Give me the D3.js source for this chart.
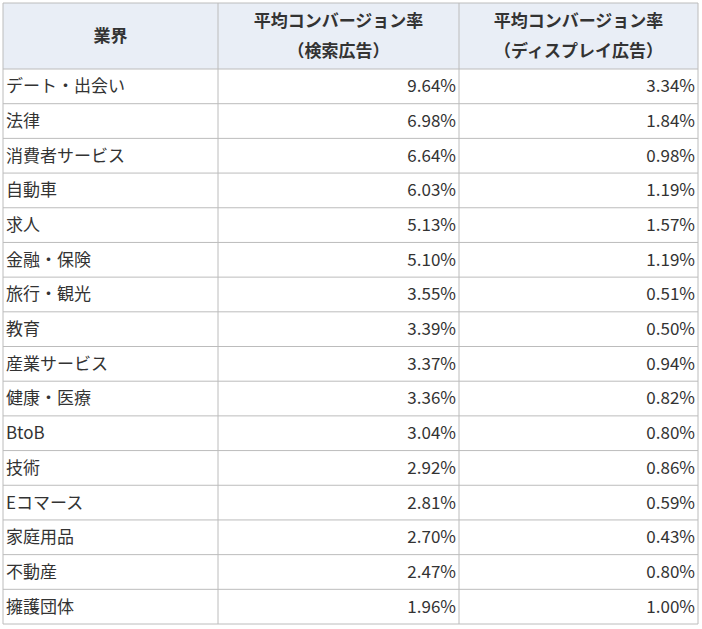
<!DOCTYPE html>
<html><head><meta charset="utf-8">
<script src="https://cdn.jsdelivr.net/npm/d3@7"></script>
<style>body{margin:0;background:#fff}</style></head>
<body><svg id="c" width="702" height="629"></svg>
<script>
const industries=["デート・出会い","法律","消費者サービス","自動車","求人","金融・保険","旅行・観光","教育","産業サービス","健康・医療","BtoB","技術","Eコマース","家庭用品","不動産","擁護団体"];
const searchRates=["9.64%","6.98%","6.64%","6.03%","5.13%","5.10%","3.55%","3.39%","3.37%","3.36%","3.04%","2.92%","2.81%","2.70%","2.47%","1.96%"];
const displayRates=["3.34%","1.84%","0.98%","1.19%","1.57%","1.19%","0.51%","0.50%","0.94%","0.82%","0.80%","0.86%","0.59%","0.43%","0.80%","1.00%"];
const headers=[["業界"],["平均コンバージョン率","（検索広告）"],["平均コンバージョン率","（ディスプレイ広告）"]];
const svg=d3.select("#c");
const font="'Noto Sans CJK JP','Noto Sans',sans-serif";
const colX=[3,218,459,698];
const headTop=3,headBot=69;
const y=d3.scaleBand().domain(d3.range(industries.length)).range([headBot,624]);
svg.append("rect").attr("x",colX[0]).attr("y",headTop).attr("width",colX[3]-colX[0]).attr("height",headBot-headTop).attr("fill","#e9eef6");
headers.forEach((h,i)=>{
  const cx=(colX[i]+colX[i+1])/2;
  const n=h.length;
  h.forEach((t,j)=>{
    const cy=(headTop+headBot)/2+(j-(n-1)/2)*30;
    svg.append("text").attr("x",cx).attr("y",cy).attr("dy","0.35em").attr("text-anchor","middle")
      .attr("font-family",font).attr("font-weight","bold").attr("font-size",17).attr("fill","#333").text(t);
  });
});
const g=svg.append("g");
industries.forEach((d,i)=>{
  const cy=y(i)+y.bandwidth()/2;
  g.append("text").attr("x",colX[0]+3).attr("y",cy).attr("dy","0.35em").attr("font-family",font).attr("font-size",17).attr("fill","#333").text(d);
  g.append("text").attr("x",colX[2]-3).attr("y",cy).attr("dy","0.35em").attr("text-anchor","end").attr("font-family",font).attr("font-size",17).attr("fill","#333").text(searchRates[i]);
  g.append("text").attr("x",colX[3]-3).attr("y",cy).attr("dy","0.35em").attr("text-anchor","end").attr("font-family",font).attr("font-size",17).attr("fill","#333").text(displayRates[i]);
});
const lines=[headTop,headBot,...d3.range(1,industries.length).map(i=>y(i)),624];
lines.forEach(v=>svg.append("line").attr("x1",colX[0]).attr("x2",colX[3]).attr("y1",v).attr("y2",v).attr("stroke","#bcbcbc"));
colX.forEach(v=>svg.append("line").attr("x1",v).attr("x2",v).attr("y1",headTop).attr("y2",624).attr("stroke","#bcbcbc"));
</script></body></html>
